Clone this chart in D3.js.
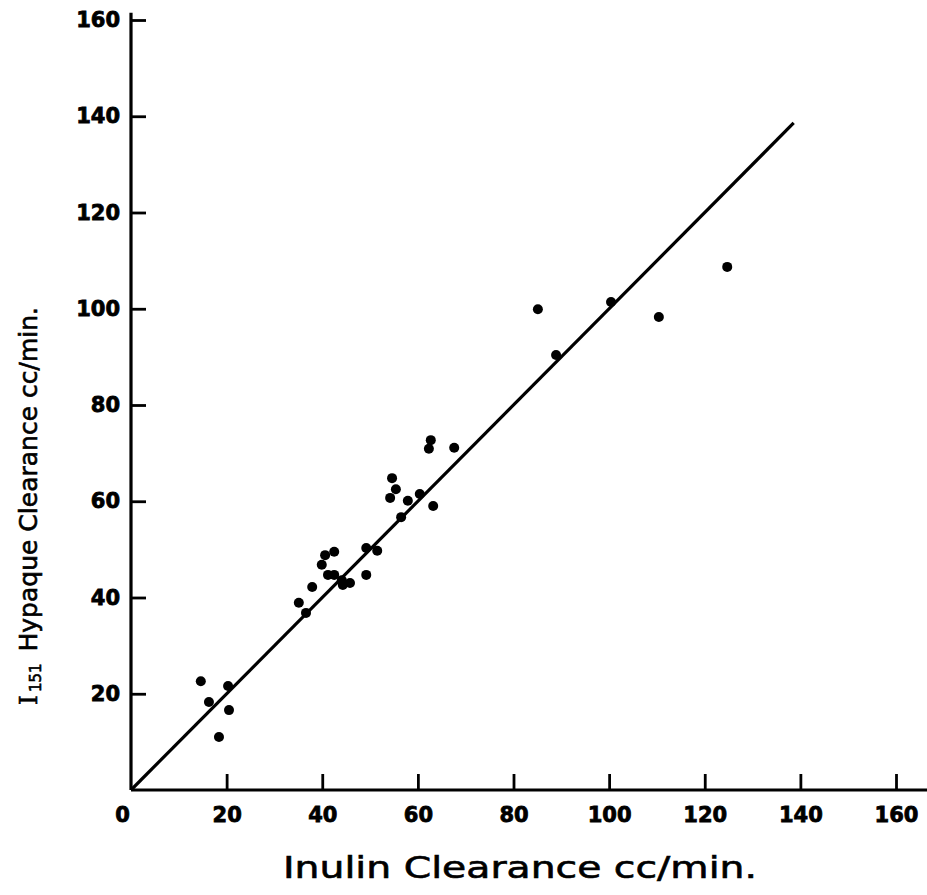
<!DOCTYPE html>
<html>
<head>
<meta charset="utf-8">
<script src="https://cdn.jsdelivr.net/npm/d3@7"></script>
<style>
  body { margin: 0; background: #fff; }
  svg { display: block; }
  .tick text { font-family: "DejaVu Sans", sans-serif; font-weight: bold; font-size: 21px; fill: #000; stroke: #000; stroke-width: 0.8px; }
  .title { font-family: "DejaVu Sans", sans-serif; fill: #000; stroke: #000; stroke-width: 0.6px; }
</style>
</head>
<body>
<svg id="chart"></svg>
<script>
// Chart size
const width = 927;
const height = 895;

// Data
const inulin = [14.6, 20.3, 16.3, 20.5, 18.4, 35.1, 36.6, 37.9, 39.9, 40.6, 42.5, 41.2,
  42.5, 44.1, 44.3, 45.8, 49.2, 49.2, 51.5, 56.5, 54.2, 55.4, 54.6, 57.9, 60.4, 63.2,
  62.3, 62.7, 67.6, 85.1, 88.9, 100.4, 110.4, 124.7];
const hypaque = [22.6, 21.6, 18.3, 16.6, 11.0, 38.9, 36.8, 42.2, 46.8, 48.8, 49.5, 44.7,
  44.7, 43.6, 42.6, 43.0, 44.7, 50.3, 49.7, 56.7, 60.7, 62.5, 64.8, 60.1, 61.5, 59.0,
  70.9, 72.7, 71.1, 99.9, 90.4, 101.4, 98.3, 108.7];
const xTicks = [0, 20, 40, 60, 80, 100, 120, 140, 160];
const yTicks = [20, 40, 60, 80, 100, 120, 140, 160];
const lineEnd = 138.6; // identity line drawn from 0 to here

const svg = d3.select("#chart")
  .attr("width", width)
  .attr("height", height);

// Scales
const x = d3.scaleLinear().domain([0, 160]).range([131, 896]);
const y = d3.scaleLinear().domain([0, 160]).range([790, 20]);

// Axis lines
svg.append("line")
  .attr("x1", x(0)).attr("x2", x(166.5))
  .attr("y1", y(0)).attr("y2", y(0))
  .attr("stroke", "#000").attr("stroke-width", 3.2);
svg.append("line")
  .attr("x1", x(0)).attr("x2", x(0))
  .attr("y1", y(0)).attr("y2", y(161.5))
  .attr("stroke", "#000").attr("stroke-width", 3.2);

// X axis (ticks point up)
const xAxis = svg.append("g")
  .attr("transform", `translate(0, ${y(0)})`)
  .call(d3.axisBottom(x).tickValues(xTicks).tickSizeInner(-16).tickSizeOuter(0).tickPadding(17));
xAxis.select(".domain").remove();
xAxis.selectAll(".tick line").attr("stroke-width", 2.8);
xAxis.selectAll(".tick").filter(d => d === 0).select("line").remove();
xAxis.selectAll(".tick").filter(d => d === 0).select("text").attr("dx", -9);

// Y axis (ticks point right, labels on left)
const yAxis = svg.append("g")
  .attr("transform", `translate(${x(0)}, 0)`)
  .call(d3.axisLeft(y).tickValues(yTicks).tickSizeInner(-15).tickSizeOuter(0).tickPadding(11));
yAxis.select(".domain").remove();
yAxis.selectAll(".tick line").attr("stroke-width", 2.8);

// Line of identity
svg.append("line")
  .attr("x1", x(0)).attr("y1", y(0))
  .attr("x2", x(lineEnd)).attr("y2", y(lineEnd))
  .attr("stroke", "#000").attr("stroke-width", 3.2);

// Points
svg.selectAll(".dot")
  .data(inulin.map((d, i) => [d, hypaque[i]]))
  .enter()
  .append("circle")
  .attr("class", "dot")
  .attr("cx", d => x(d[0]))
  .attr("cy", d => y(d[1]))
  .attr("r", 5)
  .attr("fill", "#000");

// Axis titles
svg.append("text")
  .attr("class", "title")
  .attr("x", 520).attr("y", 878)
  .attr("text-anchor", "middle")
  .attr("font-size", 30)
  .attr("textLength", 474)
  .attr("lengthAdjust", "spacingAndGlyphs")
  .text("Inulin Clearance cc/min.");

const yTitle = svg.append("text")
  .attr("class", "title")
  .attr("transform", "translate(37, 705) rotate(-90)")
  .attr("font-size", 25);
yTitle.append("tspan").attr("font-family", "DejaVu Serif").text("I");
yTitle.append("tspan").attr("font-size", 15).attr("dy", 4).attr("dx", 3).text("151");
yTitle.append("tspan").attr("dy", -4).attr("dx", 12).text("Hypaque Clearance  cc/min.");
</script>
</body>
</html>
